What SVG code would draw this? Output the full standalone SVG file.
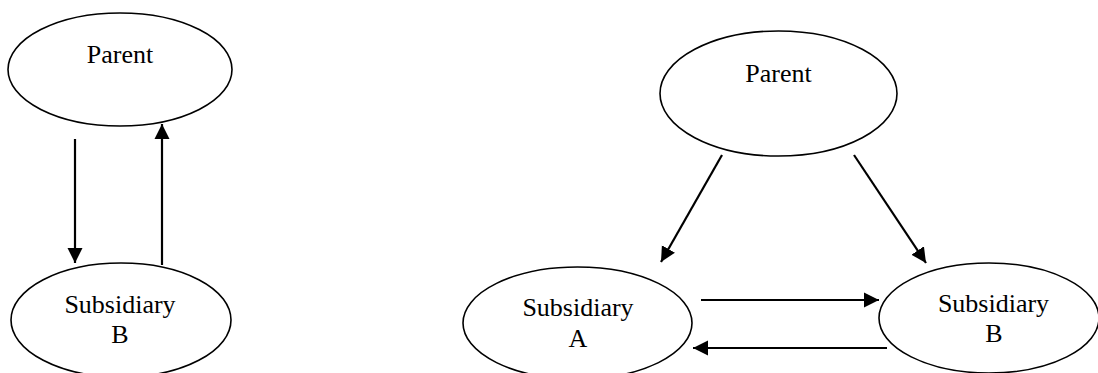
<svg xmlns="http://www.w3.org/2000/svg" width="1098" height="373" viewBox="0 0 1098 373">
<style>
.node ellipse{fill:#fff;stroke:#000;stroke-width:1.6}
.node text{font-family:"Liberation Serif","Times New Roman",serif;font-size:26px;fill:#000;text-anchor:middle}
.conn line{stroke:#000;stroke-width:2.2}
</style>
<defs>
<marker id="ah" markerUnits="userSpaceOnUse" markerWidth="16" markerHeight="16" viewBox="0 0 16 16" refX="15" refY="8" orient="auto">
<path d="M0,0.5 L15,8 L0,15.5 Z" fill="#000"/>
</marker>
</defs>
<rect width="1098" height="373" fill="#fff"/>
<g id="parent-left" class="node">
<ellipse cx="120" cy="69.5" rx="112" ry="56.5"/>
<text x="120" y="63">Parent</text>
</g>
<g id="subB-left" class="node">
<ellipse cx="121" cy="320" rx="110" ry="57"/>
<text x="120" y="313">Subsidiary</text>
<text x="120" y="343">B</text>
</g>
<g id="parent-right" class="node">
<ellipse cx="778.5" cy="93.5" rx="118.5" ry="62.5"/>
<text x="778.5" y="82">Parent</text>
</g>
<g id="subA" class="node">
<ellipse cx="577.5" cy="323" rx="114.5" ry="56"/>
<text x="578" y="316">Subsidiary</text>
<text x="578" y="347">A</text>
</g>
<g id="subB-right" class="node">
<ellipse cx="989" cy="318" rx="110" ry="55"/>
<text x="993.5" y="312">Subsidiary</text>
<text x="994" y="342">B</text>
</g>
<g id="connectors" class="conn">
<line x1="75" y1="139" x2="75" y2="263" marker-end="url(#ah)"/>
<line x1="162" y1="265" x2="162" y2="124" marker-end="url(#ah)"/>
<line x1="722" y1="155" x2="661" y2="262" marker-end="url(#ah)"/>
<line x1="854" y1="155" x2="926" y2="263" marker-end="url(#ah)"/>
<line x1="701" y1="300" x2="879" y2="300" marker-end="url(#ah)"/>
<line x1="887" y1="348" x2="693" y2="348" marker-end="url(#ah)"/>
</g>
</svg>
